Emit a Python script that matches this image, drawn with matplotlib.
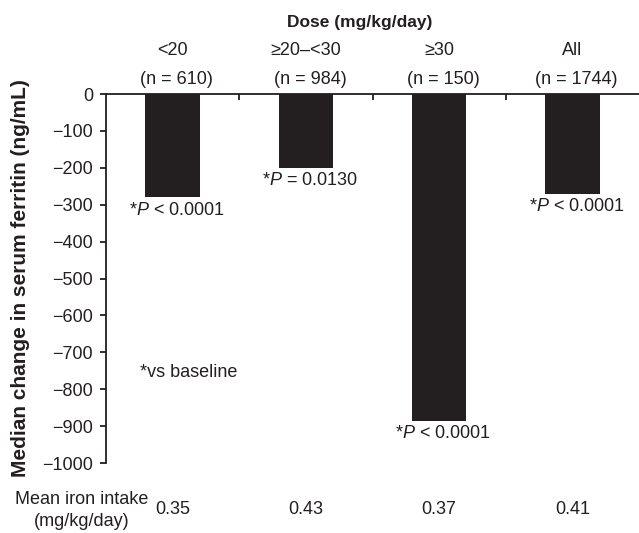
import matplotlib
matplotlib.use("Agg")
import matplotlib.pyplot as plt
import numpy as np

# data
categories = ["<20", "≥20–<30", "≥30", "All"]
n_patients = [610, 984, 150, 1744]
median_change = [-280, -200, -885, -270]
p_values = ["< 0.0001", "= 0.0130", "< 0.0001", "< 0.0001"]
iron_intake = ["0.35", "0.43", "0.37", "0.41"]
y_ticks = [0, -100, -200, -300, -400, -500, -600, -700, -800, -900, -1000]

ink = "#231f20"
plt.rcParams["font.family"] = ["Liberation Sans", "DejaVu Sans"]
plt.rcParams["mathtext.fontset"] = "custom"
plt.rcParams["mathtext.it"] = "Liberation Sans:italic"
plt.rcParams["mathtext.rm"] = "Liberation Sans"
plt.rcParams["text.color"] = ink

fig = plt.figure(figsize=(6.39, 5.33), dpi=100)
ax = fig.add_axes([0.166, 0.1313, 0.834, 0.6923])

x = np.arange(len(categories))
ax.bar(x, median_change, width=0.41, color=ink, zorder=2)

ax.set_xlim(-0.5, len(categories) - 0.5)
ax.set_ylim(-1000, 0)
ax.set_yticks(y_ticks)
ax.tick_params(axis="y", labelsize=13, length=4.5, width=1.3, pad=5,
               colors=ink, direction="out")

# zero line on top with inward ticks between groups
ax.xaxis.tick_top()
ax.set_xticks(x[:-1] + 0.5)
ax.set_xticklabels([])
ax.tick_params(axis="x", direction="in", length=4.5, width=1.3, colors=ink)
for side in ["right", "bottom"]:
    ax.spines[side].set_visible(False)
for side in ["left", "top"]:
    ax.spines[side].set_linewidth(1.3)
    ax.spines[side].set_color(ink)

# group labels above the axis
xt = ax.get_xaxis_transform()
for i, (cat, n) in enumerate(zip(categories, n_patients)):
    ax.text(i, 1.119, cat, transform=xt, ha="center", va="center", fontsize=13)
    ax.text(i + 0.03, 1.038, f"(n = {n})", transform=xt, ha="center",
            va="center", fontsize=13)

# significance under each bar
for i, (val, p) in enumerate(zip(median_change, p_values)):
    ax.annotate(f"*$P$ {p}", (i, val), xytext=(3, -3), textcoords="offset points",
                ha="center", va="top", fontsize=13)

ax.text(-0.245, -756, "*vs baseline", ha="left", va="center", fontsize=13)

# mean iron intake row
for i, v in enumerate(iron_intake):
    ax.text(i, -0.127, v, transform=xt, ha="center", va="center", fontsize=13)
fig.text(82 / 639, 1 - 500 / 533, "Mean iron intake", ha="center", va="center", fontsize=13)
fig.text(82 / 639, 1 - 521 / 533, "(mg/kg/day)", ha="center", va="center", fontsize=13)

fig.text(360 / 639, 1 - 22 / 533, "Dose (mg/kg/day)", ha="center", va="center",
         fontsize=12.5, fontweight="bold")
fig.text(21 / 639, 1 - 278 / 533, "Median change in serum ferritin (ng/mL)",
         rotation=90, ha="center", va="center", fontsize=15, fontweight="bold")

fig.savefig("out.png", dpi=100)
